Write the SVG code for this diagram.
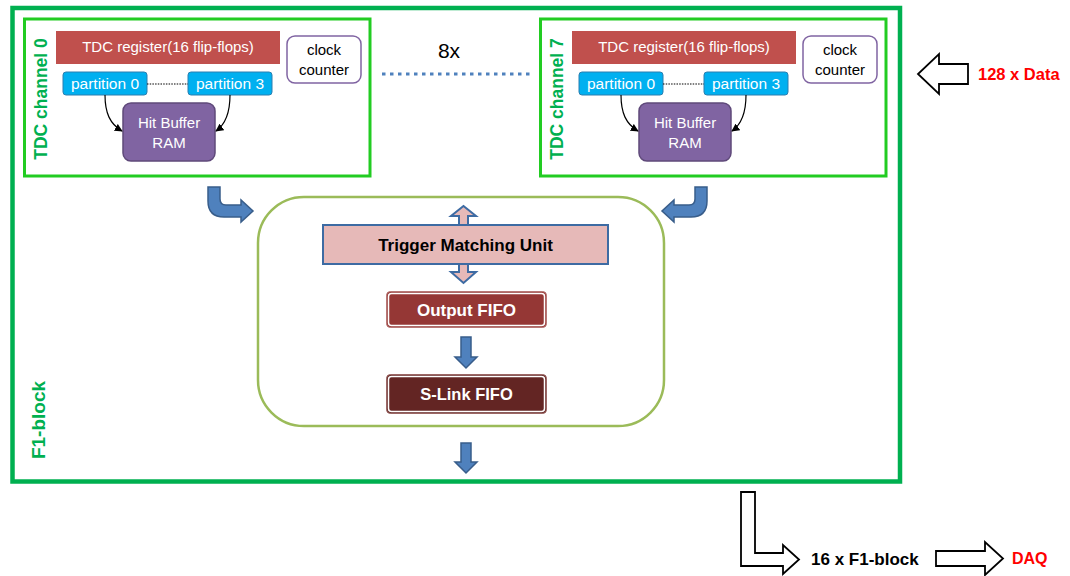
<svg xmlns="http://www.w3.org/2000/svg" width="1070" height="576" viewBox="0 0 1070 576">
<defs>
<style>
text{font-family:"Liberation Sans",Arial,sans-serif}
.chbox{fill:#fff;stroke:#22CC22;stroke-width:3}
.reg{fill:#C0504D}
.wt{fill:#fff;font-size:15px;text-anchor:middle}
.bt{fill:#000;font-size:15px;text-anchor:middle}
.clk{fill:#fff;stroke:#8064A2;stroke-width:1.5}
.part{fill:#00B0F0;stroke:#2A7FB0;stroke-width:1}
.hb{fill:#8064A2;stroke:#5F497A;stroke-width:1.5}
.vt{fill:#00B050;font-size:17.5px;font-weight:bold;text-anchor:middle}
.curve{fill:none;stroke:#000;stroke-width:1.2;marker-end:url(#ah)}
.blue{fill:#4F81BD;stroke:#385D8A;stroke-width:1.5}
.hollow{fill:#fff;stroke:#000;stroke-width:1.8}
.bold{font-weight:bold}
</style>
<marker id="ah" viewBox="0 0 10 10" refX="9" refY="5" markerWidth="8" markerHeight="8" markerUnits="userSpaceOnUse" orient="auto">
<path d="M0,0 L10,5 L0,10 Z" fill="#000"/>
</marker>
</defs>
<rect width="1070" height="576" fill="#fff"/>

<g id="f1-block">
<rect x="12.5" y="8" width="887.5" height="473.5" fill="none" stroke="#00B050" stroke-width="4.5"/>
<text class="vt" transform="translate(44.5,420) rotate(-90)" font-size="19" style="font-size:19px">F1-block</text>
</g>

<g id="tdc-channel-0">
<rect class="chbox" x="24.5" y="19" width="345.5" height="157"/>
<text class="vt" transform="translate(47,99) rotate(-90)">TDC channel 0</text>
<rect class="reg" x="56" y="31" width="224" height="33"/>
<text class="wt" x="168" y="52">TDC register(16 flip-flops)</text>
<rect class="clk" x="287" y="36" width="74" height="47" rx="8"/>
<text class="bt" x="324" y="55">clock</text>
<text class="bt" x="324" y="75">counter</text>
<rect class="part" x="63" y="72" width="84" height="23" rx="3"/>
<text class="wt" x="105" y="89" style="font-size:15.5px">partition 0</text>
<rect class="part" x="188" y="72" width="84" height="23" rx="3"/>
<text class="wt" x="230" y="89" style="font-size:15.5px">partition 3</text>
<line x1="147" y1="84" x2="188" y2="84" stroke="#000" stroke-width="1.2" stroke-dasharray="1.5 1.2"/>
<rect class="hb" x="123" y="103" width="92" height="58" rx="8"/>
<text class="wt" x="169" y="128">Hit Buffer</text>
<text class="wt" x="169" y="148">RAM</text>
<path class="curve" d="M105,95 C105,113 110,124 122,131"/>
<path class="curve" d="M230,95 C230,113 226,124 216,131"/>
</g>

<g id="tdc-channel-7" transform="translate(516,0)">
<rect class="chbox" x="24.5" y="19" width="345.5" height="157"/>
<text class="vt" transform="translate(47,99) rotate(-90)">TDC channel 7</text>
<rect class="reg" x="56" y="31" width="224" height="33"/>
<text class="wt" x="168" y="52">TDC register(16 flip-flops)</text>
<rect class="clk" x="287" y="36" width="74" height="47" rx="8"/>
<text class="bt" x="324" y="55">clock</text>
<text class="bt" x="324" y="75">counter</text>
<rect class="part" x="63" y="72" width="84" height="23" rx="3"/>
<text class="wt" x="105" y="89" style="font-size:15.5px">partition 0</text>
<rect class="part" x="188" y="72" width="84" height="23" rx="3"/>
<text class="wt" x="230" y="89" style="font-size:15.5px">partition 3</text>
<line x1="147" y1="84" x2="188" y2="84" stroke="#000" stroke-width="1.2" stroke-dasharray="1.5 1.2"/>
<rect class="hb" x="123" y="103" width="92" height="58" rx="8"/>
<text class="wt" x="169" y="128">Hit Buffer</text>
<text class="wt" x="169" y="148">RAM</text>
<path class="curve" d="M105,95 C105,113 110,124 122,131"/>
<path class="curve" d="M230,95 C230,113 226,124 216,131"/>
</g>

<g id="repeat-8x">
<text x="449" y="58" text-anchor="middle" style="font-size:21px" fill="#000">8x</text>
<line x1="382" y1="74" x2="532" y2="74" stroke="#4F81BD" stroke-width="3" stroke-dasharray="3.5 4.5"/>
</g>

<g id="input-data">
<path class="hollow" d="M968,64 L939,64 L939,54 L918,74 L939,94 L939,84 L968,84 Z"/>
<text x="978" y="80" class="bold" fill="#FF0000" style="font-size:16.5px">128 x Data</text>
</g>

<g id="readout-unit">
<rect x="258" y="197" width="406" height="229" rx="46" fill="none" stroke="#9BBB59" stroke-width="2.5"/>
</g>

<g id="trigger-matching-unit">
<path d="M463.5,206 L476,216 L468,216 L468,272 L476,272 L463.5,283 L451,272 L459,272 L459,216 L451,216 Z" fill="#E6B9B8" stroke="#3D6BA3" stroke-width="2"/>
<rect x="323" y="225" width="285" height="39" fill="#E6B9B8" stroke="#3D6BA3" stroke-width="2"/>
<text x="465.5" y="251" text-anchor="middle" class="bold" fill="#000" style="font-size:17px">Trigger Matching Unit</text>
</g>

<g id="output-fifo">
<rect x="386.5" y="291.5" width="160" height="36" rx="4" fill="#953735" stroke="#B87674" stroke-width="1"/>
<rect x="388.5" y="293.5" width="156" height="32" rx="3" fill="#953735" stroke="#fff" stroke-width="1.5"/>
<text x="466.5" y="316" text-anchor="middle" class="bold" fill="#fff" style="font-size:17px">Output FIFO</text>
</g>

<g id="s-link-fifo">
<rect x="386.5" y="374.5" width="160" height="39" rx="4" fill="#632523" stroke="#9C6664" stroke-width="1"/>
<rect x="388.5" y="376.5" width="156" height="35" rx="3" fill="#632523" stroke="#fff" stroke-width="1.5"/>
<text x="466.5" y="400" text-anchor="middle" class="bold" fill="#fff" style="font-size:16.5px">S-Link FIFO</text>
</g>

<g id="output-16x">
<path class="hollow" d="M741,492 L755,492 L755,553 L783,553 L783,545 L799,559.5 L783,574 L783,566 L741,566 Z"/>
<text x="811" y="565" class="bold" fill="#000" style="font-size:17px">16 x F1-block</text>
</g>

<g id="daq">
<path class="hollow" d="M936,551 L985,551 L985,542 L1003,558.5 L985,575 L985,566 L936,566 Z"/>
<text x="1012" y="564" class="bold" fill="#FF0000" style="font-size:16px">DAQ</text>
</g>

<g id="connectors">
<path class="blue" d="M208,187 L220,187 L220,199 Q220,205 226,205 L241,205 L241,200 L253,211 L241,222 L241,217 L224,217 Q208,217 208,201 Z"/>
<path class="blue" transform="translate(915,0) scale(-1,1)" d="M208,187 L220,187 L220,199 Q220,205 226,205 L241,205 L241,200 L253,211 L241,222 L241,217 L224,217 Q208,217 208,201 Z"/>
<path class="blue" d="M461,337 L471,337 L471,357 L477,357 L466,368 L455,357 L461,357 Z"/>
<path class="blue" d="M461,443 L471,443 L471,462 L477,462 L466,473 L455,462 L461,462 Z"/>
</g>
</svg>
